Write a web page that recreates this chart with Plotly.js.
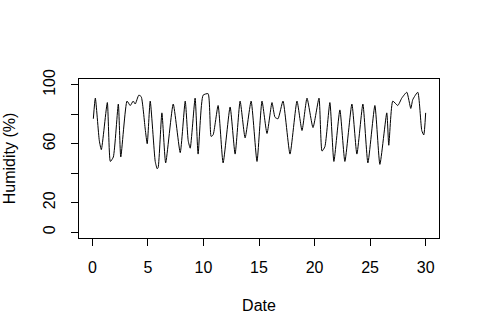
<!DOCTYPE html>
<html>
<head>
<meta charset="utf-8">
<script src="https://cdn.plot.ly/plotly-3.0.1.min.js"></script>
<style>html,body{margin:0;padding:0;background:#fff}#chart{width:480px;height:335px}</style>
</head>
<body>
<div id="chart"></div>
<script>
// Time in days and relative humidity (%)
const day = [0.09,0.27,0.63,0.81,1.35,1.62,1.89,2.34,2.56,3.12,3.41,3.68,3.86,4.18,4.40,4.76,4.94,5.21,5.66,5.84,5.93,6.26,6.60,7.28,7.91,8.36,8.63,8.81,9.25,9.52,9.97,10.42,10.69,10.87,11.32,11.77,12.40,12.85,13.30,13.75,14.29,14.82,15.27,15.72,16.17,16.44,16.71,17.16,17.79,18.42,18.87,19.32,19.86,20.40,20.67,20.93,21.38,21.74,22.28,22.73,23.36,23.81,24.35,24.80,25.43,25.88,26.50,26.68,27.04,27.49,27.85,28.30,28.66,28.84,29.29,29.65,29.83,30.0];
const humidity = [77,91,62,56,88,48,51,87,51,89,86,89,87,93,92,70,60,89,48,43,44,81,47,87,54,89,62,57,91,53,93,94,65,66,86,47,85,53,89,64,89,48,89,67,88,78,77,89,53,89,69,91,71,91,55,58,88,48,83,48,87,53,87,47,86,46,81,59,89,86,91,95,84,90,95,69,66,81];
const xTicks = [0,5,10,15,20,25,30];
const yTicks = [0,20,40,60,80,100];
const yTickText = ['0','20','','60','','100'];

const font = {family:'Liberation Sans, Arial, sans-serif', size:16, color:'#000'};
Plotly.newPlot('chart', [{
  x: day, y: humidity, type:'scatter', mode:'lines',
  line:{color:'#000', width:1, shape:'spline', smoothing:0.5}, hoverinfo:'skip'
}], {
  width:480, height:335,
  margin:{l:79, r:41, t:79, b:97},
  paper_bgcolor:'#fff', plot_bgcolor:'#fff',
  font: font, showlegend:false,
  xaxis:{range:[-1.2,31.2], tickvals:xTicks, ticktext:xTicks.map(String),
    showgrid:false, zeroline:false, showline:true, mirror:true, linecolor:'#000', linewidth:1,
    ticks:'outside', ticklen:7, tickcolor:'#000', tickwidth:1, ticklabelstandoff:8,
    tickfont:font,
    title:{text:'Date', font:font, standoff:24}},
  yaxis:{range:[-4,104], tickvals:yTicks, ticktext:yTickText, tickangle:-90,
    showgrid:false, zeroline:false, showline:true, mirror:true, linecolor:'#000', linewidth:1,
    ticks:'outside', ticklen:7, tickcolor:'#000', tickwidth:1, ticklabelstandoff:10,
    tickfont:font,
    title:{text:'Humidity (%)', font:font, standoff:20}}
}, {staticPlot:true});
</script>
</body>
</html>
